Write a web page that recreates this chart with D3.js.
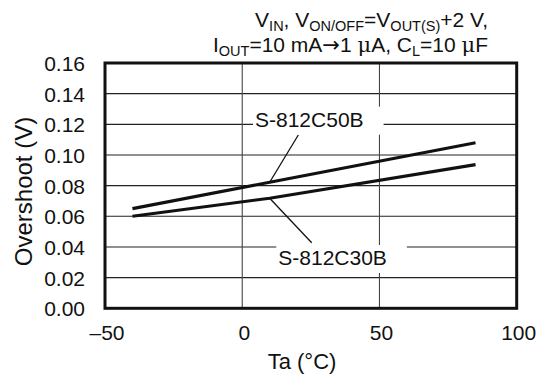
<!DOCTYPE html>
<html><head><meta charset="utf-8">
<script src="https://cdn.jsdelivr.net/npm/d3@7"></script>
<style>
body{margin:0;background:#fff;}
text{font-family:"Liberation Sans",Arial,Helvetica,sans-serif;fill:#111;}
</style></head>
<body><svg id="c" width="545" height="376"></svg>
<script>
// ---- data ----
const tempC = [-40, 10, 85];
const s50B = [0.065, 0.0822, 0.108];
const s30B = [0.060, 0.0718, 0.0937];
const seriesNames = ["S-812C50B", "S-812C30B"];
const xTicks = [-50, 0, 50, 100];
const xTickLabels = ["\u201350", "0", "50", "100"];
const yTicks = [0, 0.02, 0.04, 0.06, 0.08, 0.10, 0.12, 0.14, 0.16];
const yTickLabels = ["0.00","0.02","0.04","0.06","0.08","0.10","0.12","0.14","0.16"];
const labelAt = [10, 10]; // temperature where leader touches each curve

// ---- layout ----
const svg = d3.select("#c");
const L = 105, R = 516.7, T = 63, B = 308.3;
const x = d3.scaleLinear().domain([-50, 100]).range([L, R]);
const y = d3.scaleLinear().domain([0, 0.16]).range([B, T]);
const fs = 21;

// gridlines
svg.append("g").selectAll("line.h").data(yTicks.slice(1, -1)).join("line")
  .attr("x1", L).attr("x2", R).attr("y1", d => y(d)).attr("y2", d => y(d))
  .attr("stroke", "#222").attr("stroke-width", 1.1);
svg.append("g").selectAll("line.v").data(xTicks.slice(1, -1)).join("line")
  .attr("y1", T).attr("y2", B).attr("x1", d => x(d)).attr("x2", d => x(d))
  .attr("stroke", "#444").attr("stroke-width", 1.1);

// tick labels
svg.append("g").selectAll("text").data(yTicks).join("text")
  .attr("x", 85).attr("y", d => y(d) + 8).attr("text-anchor", "end")
  .attr("font-size", fs).text((d, i) => yTickLabels[i]);
svg.append("g").selectAll("text").data(xTicks).join("text")
  .attr("x", d => x(d) + 2).attr("y", 340).attr("text-anchor", "middle")
  .attr("font-size", fs).text((d, i) => xTickLabels[i]);

// axis titles
svg.append("text").attr("x", 302).attr("y", 369).attr("text-anchor", "middle")
  .attr("font-size", 22).text("Ta (\u00B0C)");
svg.append("text").attr("transform", "translate(32,191.5) rotate(-90)")
  .attr("text-anchor", "middle").attr("font-size", 24).text("Overshoot (V)");

// condition title
const sub = 14.5, fsT = 21;
function addTitle(parts, yb) {
  const t = svg.append("text").attr("x", 488).attr("y", yb)
    .attr("text-anchor", "end").attr("font-size", fsT);
  let shifted = false;
  parts.forEach(p => {
    const s = t.append("tspan").text(p[0]);
    if (p[2]) s.style("font-family", p[2]);
    if (p[1] && !shifted) { s.attr("dy", 4).attr("font-size", sub); shifted = true; }
    else if (p[1]) { s.attr("font-size", sub); }
    else if (shifted) { s.attr("dy", -4); shifted = false; }
  });
}
addTitle([["V"],["IN",1],[", V"],["ON/OFF",1],["=V"],["OUT(S)",1],["+2 V,"]], 27);
addTitle([["I"],["OUT",1],["=10 mA"],["\u2192",0,"DejaVu Sans"],["1 "],["\u03BC",0,"DejaVu Serif"],["A, C"],["L",1],["=10 "],["\u03BC",0,"DejaVu Serif"],["F"]], 52);

// curves
const line = d3.line().x(d => x(d[0])).y(d => y(d[1]));
[s50B, s30B].forEach(vals => {
  svg.append("path").datum(tempC.map((t, i) => [t, vals[i]]))
    .attr("d", line).attr("fill", "none").attr("stroke", "#111")
    .attr("stroke-width", 3.1).attr("stroke-linecap", "butt");
});

// annotations
const ann = [
  {name: seriesNames[0], tx: 255, ty: 126.7, lx: 298.3, ly: 135, vals: s50B, at: labelAt[0]},
  {name: seriesNames[1], tx: 278.3, ty: 265, lx: 311.7, ly: 242.7, vals: s30B, at: labelAt[1]}
];
ann.forEach(a => {
  const g = svg.append("g");
  const rect = g.append("rect").attr("fill", "#fff");
  const txt = g.append("text").attr("x", a.tx).attr("y", a.ty).attr("font-size", fs).text(a.name);
  const bb = txt.node().getBBox();
  rect.attr("x", bb.x - 2).attr("y", a.ty - 20).attr("width", bb.width + 22).attr("height", 28);
  const yv = d3.scaleLinear().domain(tempC).range(a.vals)(a.at);
  svg.append("line").attr("x1", a.lx).attr("y1", a.ly).attr("x2", x(a.at)).attr("y2", y(yv))
    .attr("stroke", "#111").attr("stroke-width", 1.3);
});

// frame
svg.append("rect").attr("x", L).attr("y", T).attr("width", R - L).attr("height", B - T)
  .attr("fill", "none").attr("stroke", "#111").attr("stroke-width", 3);
</script></body></html>
